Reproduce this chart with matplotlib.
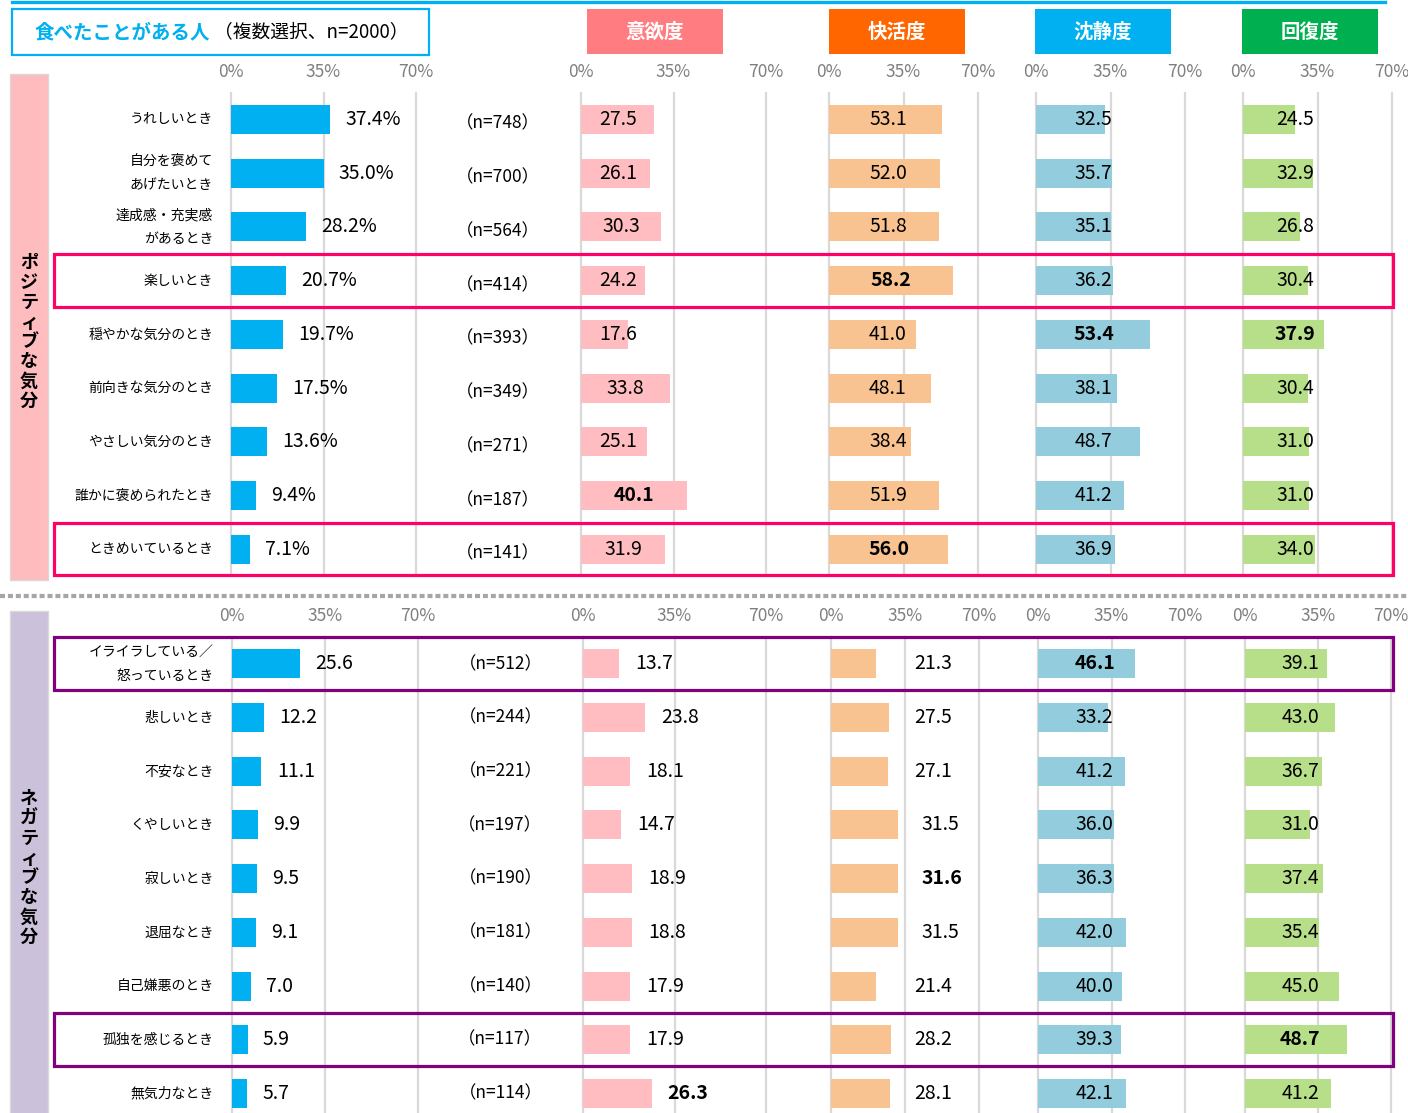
import matplotlib
matplotlib.use('Agg')
import matplotlib.pyplot as plt
from matplotlib.patches import Rectangle
from matplotlib.lines import Line2D

plt.rcParams['font.family'] = ['Noto Sans CJK JP', 'DejaVu Sans']

# data
top_labels = ['うれしいとき', '自分を褒めて\nあげたいとき', '達成感・充実感\nがあるとき', '楽しいとき',
              '穏やかな気分のとき', '前向きな気分のとき', 'やさしい気分のとき', '誰かに褒められたとき',
              'ときめいているとき']
top_share = [37.4, 35.0, 28.2, 20.7, 19.7, 17.5, 13.6, 9.4, 7.1]
top_n = [748, 700, 564, 414, 393, 349, 271, 187, 141]
top_iyoku = [27.5, 26.1, 30.3, 24.2, 17.6, 33.8, 25.1, 40.1, 31.9]
top_kaikatsu = [53.1, 52.0, 51.8, 58.2, 41.0, 48.1, 38.4, 51.9, 56.0]
top_chinsei = [32.5, 35.7, 35.1, 36.2, 53.4, 38.1, 48.7, 41.2, 36.9]
top_kaifuku = [24.5, 32.9, 26.8, 30.4, 37.9, 30.4, 31.0, 31.0, 34.0]
top_bold = [[7], [3, 8], [4], [4]]
top_marked = [3, 8]

bottom_labels = ['イライラしている／\n怒っているとき', '悲しいとき', '不安なとき', 'くやしいとき',
                 '寂しいとき', '退屈なとき', '自己嫌悪のとき', '孤独を感じるとき', '無気力なとき']
bottom_share = [25.6, 12.2, 11.1, 9.9, 9.5, 9.1, 7.0, 5.9, 5.7]
bottom_n = [512, 244, 221, 197, 190, 181, 140, 117, 114]
bottom_iyoku = [13.7, 23.8, 18.1, 14.7, 18.9, 18.8, 17.9, 17.9, 26.3]
bottom_kaikatsu = [21.3, 27.5, 27.1, 31.5, 31.6, 31.5, 21.4, 28.2, 28.1]
bottom_chinsei = [46.1, 33.2, 41.2, 36.0, 36.3, 42.0, 40.0, 39.3, 42.1]
bottom_kaifuku = [39.1, 43.0, 36.7, 31.0, 37.4, 35.4, 45.0, 48.7, 41.2]
bottom_bold = [[8], [4], [0], [7]]
bottom_marked = [0, 7]

headers = ['意欲度', '快活度', '沈静度', '回復度']
header_colors = ['#ff7c80', '#ff6600', '#00b0f0', '#00b050']
bar_colors = ['#00b0f0', '#ffbdc1', '#f9c291', '#93cddd', '#b7de88']

W, H = 1408, 1113
fig = plt.figure(figsize=(W / 100, H / 100), dpi=100)


def rect(x0, y0, x1, y1):
    return [x0 / W, 1 - y1 / H, (x1 - x0) / W, (y1 - y0) / H]


def fig_rect(x0, y0, x1, y1, **kw):
    fig.add_artist(Rectangle((x0 / W, 1 - y1 / H), (x1 - x0) / W, (y1 - y0) / H,
                             transform=fig.transFigure, **kw))


def draw_section(labels, share, n, cols, bold, marked, mark_color, y_top, pitch, xs, modes,
                 pct, n_dy):
    y_bot = y_top + pitch * len(labels)
    rows = range(len(labels))
    values = [share] + cols
    for k, (x0, x1) in enumerate(xs):
        ax = fig.add_axes(rect(x0, y_top, x1, y_bot))
        ax.barh(rows, values[k], height=0.54, color=bar_colors[k])
        ax.set_xlim(0, 70)
        ax.set_ylim(len(labels) - 0.5, -0.5)
        ax.set_xticks([0, 35, 70])
        ax.set_xticklabels(['0%', '35%', '70%'])
        ax.xaxis.tick_top()
        ax.tick_params(axis='x', length=0, pad=8.5, labelsize=12.5, labelcolor='#7f7f7f')
        ax.set_yticks([])
        ax.grid(axis='x', color='#d9d9d9', lw=1.6)
        for gl in ax.get_xgridlines():
            gl.set_clip_on(False)
        ax.set_axisbelow(True)
        for s in ax.spines.values():
            s.set_visible(False)
        if k == 0:
            for i in rows:
                v = share[i]
                txt = f'{v:.1f}%' if pct else f'{v:.1f}'
                ax.annotate(txt, (v, i), xytext=(11, 0), textcoords='offset points',
                            va='center', ha='left', fontsize=14)
                ax.text(101, i + n_dy, f'（n={n[i]}）', ha='center', va='center',
                        fontsize=12.5, clip_on=False)
                ax.text(-6.8, i, labels[i], ha='right', va='center', fontsize=10,
                        linespacing=1.9, clip_on=False)
        else:
            mode, m, off = modes[k - 1]
            for i in rows:
                v = values[k][i]
                w = 'bold' if i in bold[k - 1] else 'normal'
                if mode == 'center':
                    ax.text(max(v / 2, m), i, f'{v:.1f}', ha='center', va='center',
                            fontsize=14, fontweight=w)
                else:
                    ax.annotate(f'{v:.1f}', (max(v, m), i), xytext=(off * 0.72, 0),
                                textcoords='offset points', ha='left', va='center',
                                fontsize=14, fontweight=w)
    for i in marked:
        fig_rect(54, y_top + i * pitch, 1393, y_top + (i + 1) * pitch - 1,
                 fill=False, edgecolor=mark_color, lw=2.3, zorder=5)


# header
fig.add_artist(Line2D([12 / W, 1385 / W], [1 - 1.5 / H] * 2, color='#00b0f0', lw=2.4))
fig_rect(12, 9, 429, 55, facecolor='white', edgecolor='#00b0f0', lw=1.6)
fig.text(35 / W, 1 - 33 / H, '食べたことがある人', color='#00b0f0', fontsize=14,
         fontweight='bold', va='center')
fig.text(214 / W, 1 - 32 / H, '（複数選択、n=2000）', color='black', fontsize=13.5, va='center')
for name, c, x0 in zip(headers, header_colors, [587, 829, 1035, 1242]):
    fig_rect(x0, 9, x0 + 136, 54, facecolor=c, edgecolor='none')
    fig.text((x0 + 68) / W, 1 - 32 / H, name, color='white', fontsize=14,
             fontweight='bold', ha='center', va='center')

# side bands
fig_rect(10, 74, 48, 580, facecolor='#ffbcbf', edgecolor='#d9d9d9', lw=1)
fig_rect(10, 611, 48, 1118, facecolor='#ccc1da', edgecolor='#d9d9d9', lw=1)
fig.text(29 / W, 1 - 332 / H, '\n'.join('ポジティブな気分'), ha='center', va='center',
         fontsize=13, fontweight='bold', linespacing=1.05)
fig.text(29 / W, 1 - 868 / H, '\n'.join('ネガティブな気分'), ha='center', va='center',
         fontsize=13, fontweight='bold', linespacing=1.05)

# separator
fig.add_artist(Line2D([0, 1], [1 - 596 / H] * 2, color='#a6a6a6', lw=3,
                      linestyle=(0, (1.2, 0.7))))

draw_section(top_labels, top_share, top_n,
             [top_iyoku, top_kaikatsu, top_chinsei, top_kaifuku], top_bold, top_marked,
             '#ff0066', 92.5, 53.75,
             [(231, 416), (581, 766), (829, 978), (1036, 1185), (1243, 1392)],
             [('center', 14, 0), ('center', 27.7, 0), ('center', 27, 0), ('center', 24.5, 0)],
             True, 0.08)
draw_section(bottom_labels, bottom_share, bottom_n,
             [bottom_iyoku, bottom_kaikatsu, bottom_chinsei, bottom_kaifuku], bottom_bold,
             bottom_marked, '#800080', 637, 53.7,
             [(232, 418), (583, 766), (831, 979), (1038, 1185), (1245, 1391)],
             [('out', 0, 16), ('out', 28, 24), ('center', 27, 0), ('center', 26.5, 0)],
             False, 0)

fig.savefig('out.png', dpi=100)
